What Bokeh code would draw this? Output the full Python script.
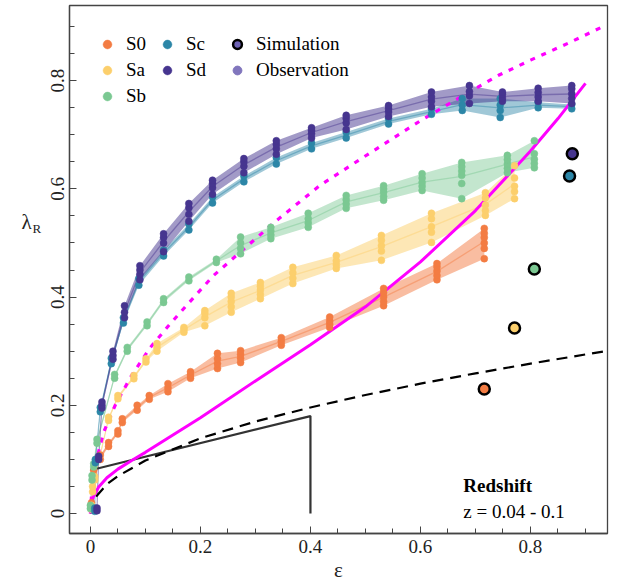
from bokeh.plotting import figure
from bokeh.layouts import row
from bokeh.models import FixedTicker, Legend, LegendItem, Label, Range1d
from bokeh.core.properties import value
from bokeh.embed import file_html
from bokeh.resources import INLINE

# ---------------- data ----------------
series_names = ["S0", "Sa", "Sb", "Sc", "Sd"]

s0_eps = [0.002, 0.006, 0.018, 0.033, 0.05, 0.058, 0.085, 0.107, 0.141, 0.182,
          0.231, 0.273, 0.347, 0.435, 0.533, 0.63, 0.716]
s0_lam = [[0.012, 0.02], [0.07, 0.08], [0.1, 0.108], [0.124, 0.131], [0.147, 0.153],
          [0.168, 0.175], [0.191, 0.2], [0.211, 0.218], [0.225, 0.232, 0.24],
          [0.25, 0.256, 0.262], [0.268, 0.277, 0.286, 0.296], [0.279, 0.287, 0.294, 0.301],
          [0.311, 0.318, 0.325], [0.344, 0.35, 0.356, 0.363], [0.384, 0.392, 0.4, 0.408, 0.416],
          [0.432, 0.44, 0.448, 0.456, 0.462], [0.471, 0.49, 0.5, 0.51, 0.518, 0.527]]

sa_eps = [0.002, 0.004, 0.008, 0.033, 0.05, 0.079, 0.101, 0.121, 0.17, 0.208, 0.256,
          0.309, 0.368, 0.447, 0.529, 0.62, 0.718, 0.771]
sa_lam = [[0.008, 0.015], [0.04, 0.05], [0.062, 0.068], [0.172, 0.178], [0.212, 0.218],
          [0.249, 0.255], [0.28, 0.286], [0.3, 0.307, 0.314], [0.335, 0.34, 0.344],
          [0.347, 0.362, 0.37, 0.375], [0.372, 0.382, 0.392, 0.4, 0.407],
          [0.397, 0.405, 0.413, 0.42, 0.427], [0.425, 0.435, 0.445, 0.455],
          [0.453, 0.46, 0.467, 0.477], [0.468, 0.485, 0.495, 0.505, 0.514],
          [0.501, 0.52, 0.53, 0.545, 0.555], [0.551, 0.56, 0.57, 0.583, 0.593],
          [0.582, 0.595, 0.605, 0.62, 0.643]]

sb_eps = [0.0, 0.003, 0.006, 0.012, 0.044, 0.067, 0.103, 0.133, 0.179, 0.229, 0.273,
          0.328, 0.396, 0.465, 0.533, 0.603, 0.675, 0.758, 0.807]
sb_lam = [[0.009, 0.015], [0.062, 0.07], [0.086, 0.092], [0.13, 0.137], [0.25, 0.257],
          [0.3, 0.307], [0.347, 0.354], [0.39, 0.397], [0.43, 0.437], [0.464, 0.47],
          [0.48, 0.49, 0.5, 0.511], [0.508, 0.515, 0.522, 0.529], [0.529, 0.537, 0.545, 0.555],
          [0.564, 0.572, 0.58, 0.588], [0.579, 0.586, 0.594, 0.6, 0.606],
          [0.597, 0.605, 0.612, 0.62, 0.628], [0.582, 0.61, 0.625, 0.633, 0.641, 0.649],
          [0.63, 0.638, 0.646, 0.654, 0.662], [0.639, 0.647, 0.655, 0.665, 0.689]]

sc_eps = [0.008, 0.009, 0.018, 0.038, 0.06, 0.088, 0.133, 0.179, 0.222, 0.279, 0.338,
          0.402, 0.465, 0.542, 0.62, 0.676, 0.745, 0.814, 0.875]
sc_lam = [[0.004, 0.01], [0.094, 0.1], [0.188, 0.196], [0.277, 0.287], [0.352, 0.362],
          [0.422, 0.434], [0.476, 0.487], [0.524, 0.535], [0.574, 0.585], [0.613, 0.624],
          [0.646, 0.658], [0.674, 0.685], [0.694, 0.705], [0.72, 0.73], [0.738, 0.748],
          [0.745, 0.755, 0.767], [0.732, 0.745, 0.755, 0.767], [0.75, 0.76], [0.748, 0.756]]

sd_eps = [0.012, 0.015, 0.021, 0.041, 0.062, 0.09, 0.133, 0.179, 0.222, 0.279, 0.338,
          0.402, 0.465, 0.542, 0.62, 0.689, 0.749, 0.814, 0.875]
sd_lam = [[0.005, 0.01], [0.1, 0.106], [0.195, 0.2, 0.206], [0.285, 0.292, 0.3],
          [0.362, 0.372, 0.384], [0.432, 0.442, 0.45, 0.458], [0.484, 0.5, 0.51, 0.517],
          [0.54, 0.553, 0.565, 0.573], [0.59, 0.602, 0.61, 0.616], [0.63, 0.642, 0.65, 0.656],
          [0.664, 0.674, 0.682, 0.689], [0.694, 0.702, 0.708, 0.713], [0.71, 0.722, 0.73, 0.736],
          [0.734, 0.742, 0.748, 0.754], [0.752, 0.762, 0.77, 0.779], [0.758, 0.772, 0.78, 0.791],
          [0.762, 0.768, 0.775, 0.779], [0.762, 0.77, 0.778, 0.786],
          [0.758, 0.767, 0.776, 0.785, 0.791]]

# simulation points (one per type)
sim_eps = [0.716, 0.771, 0.807, 0.871, 0.876]
sim_lam = [0.230, 0.343, 0.452, 0.624, 0.665]

# theoretical curves
mag_solid_eps = [0.0, 0.005, 0.015, 0.03, 0.05, 0.075, 0.1, 0.15, 0.2, 0.3, 0.4, 0.5,
                 0.6, 0.7, 0.8, 0.85, 0.9]
mag_solid_lam = [0.012, 0.03, 0.049, 0.066, 0.082, 0.098, 0.113, 0.145, 0.177, 0.245,
                 0.312, 0.382, 0.465, 0.56, 0.67, 0.73, 0.795]
mag_dot_eps = [0.0, 0.003, 0.01, 0.024, 0.045, 0.073, 0.109, 0.142, 0.176, 0.224, 0.279,
               0.339, 0.418, 0.497, 0.6, 0.673, 0.742, 0.8, 0.87, 0.936]
mag_dot_lam = [0.0, 0.05, 0.095, 0.15, 0.2, 0.252, 0.307, 0.347, 0.386, 0.44, 0.489,
               0.542, 0.607, 0.659, 0.726, 0.77, 0.81, 0.838, 0.87, 0.902]
dash_eps = [0.0, 0.01, 0.03, 0.05, 0.1, 0.2, 0.3, 0.4, 0.5, 0.6, 0.7, 0.8, 0.9, 0.95]
dash_lam = [0.0, 0.031, 0.054, 0.069, 0.098, 0.139, 0.17, 0.196, 0.219, 0.24, 0.259,
            0.277, 0.294, 0.302]
slow_eps = [0.0, 0.4, 0.4]
slow_lam = [0.08, 0.18, 0.0]

x_ticks = [0, 0.2, 0.4, 0.6, 0.8]
x_tick_labels = ["0", "0.2", "0.4", "0.6", "0.8"]
y_ticks = [0, 0.2, 0.4, 0.6, 0.8]
y_tick_labels = ["0", "0.2", "0.4", "0.6", "0.8"]
minor_ticks = [0.05, 0.1, 0.15, 0.25, 0.3, 0.35, 0.45, 0.5, 0.55, 0.65, 0.7, 0.75, 0.85, 0.9]

x_title = "ε"
y_title_main = "λ"
y_title_sub = "R"

# ---------------- styling ----------------
colors = {"S0": "#f37c43", "Sa": "#fccf6c", "Sb": "#7bc892", "Sc": "#2c86a7", "Sd": "#46358f"}
band_alpha = {"S0": 0.5, "Sa": 0.5, "Sb": 0.45, "Sc": 0.45, "Sd": 0.5}
obs_color = "#8176bd"
sim_leg_color = "#6e62b4"
FONT = "Liberation Serif"

data = {"S0": (s0_eps, s0_lam), "Sa": (sa_eps, sa_lam), "Sb": (sb_eps, sb_lam),
        "Sc": (sc_eps, sc_lam), "Sd": (sd_eps, sd_lam)}

p = figure(width=577, height=586, output_backend="svg", toolbar_location=None,
           x_range=Range1d(-0.038, 0.94), y_range=Range1d(-0.037, 0.939),
           min_border_left=27, min_border_right=12, min_border_top=5, min_border_bottom=53)
p.xgrid.visible = False
p.ygrid.visible = False
p.outline_line_color = "#444444"
p.outline_line_width = 1.3

# bands
for name in series_names:
    eps, lam = data[name]
    lo = [min(v) for v in lam]
    hi = [max(v) for v in lam]
    p.varea(x=eps, y1=lo, y2=hi, fill_color=colors[name], fill_alpha=band_alpha[name])

# thin connecting lines
for name in series_names:
    eps, lam = data[name]
    mid = [sum(v) / len(v) for v in lam]
    p.line(eps, mid, line_color=colors[name], line_alpha=0.45, line_width=1.3)

# theory lines
p.line(slow_eps, slow_lam, line_color="#333333", line_width=2.2)
p.line(dash_eps, dash_lam, line_color="black", line_width=2.2, line_dash="11 7")
p.line(mag_dot_eps, mag_dot_lam, line_color="#ff00ff", line_width=3.2, line_dash="5 7")
p.line(mag_solid_eps, mag_solid_lam, line_color="#ff00ff", line_width=3)

# dots
dot_r = {}
for name in series_names:
    eps, lam = data[name]
    xs, ys = [], []
    for e, vals in zip(eps, lam):
        for v in vals:
            xs.append(e)
            ys.append(v)
    dot_r[name] = p.scatter(xs, ys, size=7, fill_color=colors[name], line_color=colors[name],
                            line_width=0.5)

# legend proxies (hidden underneath the Sd simulation marker)
sim_leg = p.scatter(x=sim_eps[4:], y=sim_lam[4:], size=9, fill_color=sim_leg_color,
                    line_color="black", line_width=2.5)
obs_leg = p.scatter(x=sim_eps[4:], y=sim_lam[4:], size=7, fill_color=obs_color,
                    line_color=obs_color)

# simulation points
sim_colors = [colors[n] for n in series_names]
p.scatter(x=sim_eps, y=sim_lam, size=11, fill_color=sim_colors, line_color="black",
          line_width=2.5)

# axes
for ax in (p.xaxis[0], p.yaxis[0]):
    ax.major_tick_in = 7
    ax.major_tick_out = 0
    ax.minor_tick_in = 5
    ax.minor_tick_out = 0
    ax.axis_line_color = "#444444"
    ax.axis_line_width = 1.3
    ax.major_tick_line_color = "#444444"
    ax.minor_tick_line_color = "#444444"
    ax.major_label_text_font = FONT
    ax.major_label_text_font_size = "19px"
    ax.major_label_text_color = "#222222"
p.xaxis[0].ticker = FixedTicker(ticks=x_ticks, minor_ticks=minor_ticks)
p.yaxis[0].ticker = FixedTicker(ticks=y_ticks, minor_ticks=minor_ticks)
p.xaxis[0].major_label_overrides = {t: l for t, l in zip(x_ticks, x_tick_labels)}
p.yaxis[0].major_label_overrides = {t: l for t, l in zip(y_ticks, y_tick_labels)}
p.yaxis[0].major_label_orientation = "vertical"
p.xaxis[0].major_label_standoff = 6
p.yaxis[0].major_label_standoff = 5
p.xaxis[0].axis_label = x_title
p.xaxis[0].axis_label_text_font = FONT
p.xaxis[0].axis_label_text_font_size = "21px"
p.xaxis[0].axis_label_text_font_style = "normal"
p.xaxis[0].axis_label_text_color = "#222222"
p.xaxis[0].axis_label_standoff = 2

# redshift annotation
p.add_layout(Label(x=0.678, y=0.052, text="Redshift", text_font=FONT, text_font_size="19px",
                   text_font_style="bold", text_baseline="alphabetic", text_color="black"))
p.add_layout(Label(x=0.678, y=0.003, text="z = 0.04 - 0.1", text_font=FONT,
                   text_font_size="19px", text_baseline="alphabetic", text_color="black"))

# legends (three columns)
def add_legend(items, loc):
    lg = Legend(items=items, location=loc, orientation="vertical",
                border_line_color=None, background_fill_alpha=0,
                label_text_font=FONT, label_text_font_size="19px", label_text_color="black",
                glyph_width=22, glyph_height=22, label_height=22, label_standoff=8,
                spacing=4, padding=0, margin=0)
    p.add_layout(lg)

add_legend([LegendItem(label=n, renderers=[dot_r[n]]) for n in ["S0", "Sa", "Sb"]], (27, 426))
add_legend([LegendItem(label=n, renderers=[dot_r[n]]) for n in ["Sc", "Sd"]], (87, 452))
add_legend([LegendItem(label="Simulation", renderers=[sim_leg]),
            LegendItem(label="Observation", renderers=[obs_leg])], (157, 452))

# narrow strip on the left carrying the horizontal y-axis title
lab = figure(width=42, height=586, output_backend="svg", toolbar_location=None,
             x_range=Range1d(0, 42), y_range=Range1d(0, 586),
             x_axis_location=None, y_axis_location=None,
             min_border_left=0, min_border_right=0, min_border_top=0, min_border_bottom=0)
lab.outline_line_color = None
lab.xgrid.visible = False
lab.ygrid.visible = False
lab.text(x=[26], y=[346], text=[y_title_main], text_font=value(FONT), text_font_size="21px",
         text_align="center", text_baseline="middle", text_color="#222222")
lab.text(x=[32], y=[339], text=[y_title_sub], text_font=value(FONT), text_font_size="13px",
         text_align="left", text_baseline="middle", text_color="#222222")

layout = row(lab, p, spacing=0)
open("out.html", "w").write(file_html(layout, INLINE))
